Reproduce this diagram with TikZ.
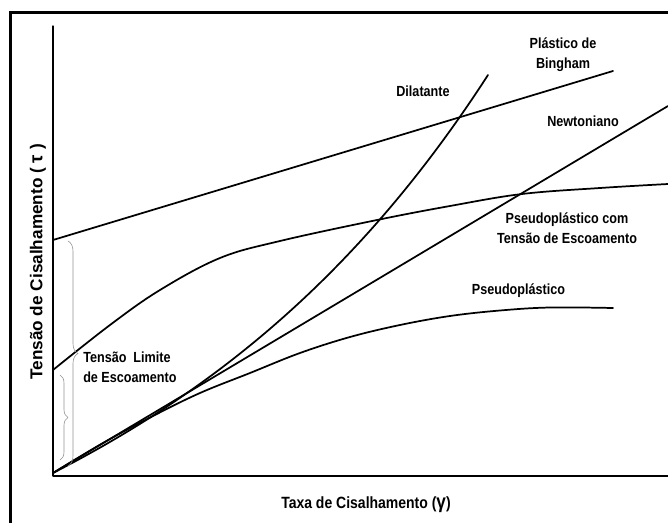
\documentclass[tikz,border=0pt]{standalone}
\usepackage{fontspec}
\setmainfont[FakeStretch=0.86]{Liberation Sans}
\newfontfamily\fonteeixo{Liberation Sans}
\usetikzlibrary{decorations.pathreplacing}

\begin{document}
\begin{tikzpicture}[x=0.75pt,y=0.75pt, line cap=round, line join=round,
	curva/.style={line width=1.3pt},
	chave/.style={draw=gray!85, line width=0.45pt, decorate, decoration={brace, amplitude=#1}},
	rotulo/.style={font=\fontsize{11}{15}\selectfont\bfseries, align=center, inner sep=0pt},
	eixo/.style={font=\fontsize{12.2}{14}\selectfont\bfseries, inner sep=0pt}]
	\useasboundingbox (-53,-46) rectangle (615,476);
	
	% ===== moldura =====
	\draw[line width=2.25pt, line cap=butt, line join=miter] (-42.5,-50) -- (-42.5,463.5) -- (620,463.5);
	
	% ===== eixos =====
	\draw[line width=1pt] (0,450) -- (0,0);
	\draw[line width=1.6pt, line cap=butt] (0,0) -- (620,0);
	
	% ===== curvas =====
	\draw[curva] (0,236) -- (560,405);                                  % Bingham
	\draw[curva] (0,3) -- (615,370);                                    % Newtoniano
	\draw[curva] (0,3) .. controls (150,80) and (300,192) .. (435,401); % Dilatante
	\draw[curva] plot[smooth, tension=0.6] coordinates {(0,106) (57,151) (107,186) (167,218) (227,235) (324,256) (397,270) (469,282) (547,288) (615,292)};
	\draw[curva] plot[smooth, tension=0.6] coordinates {(0,3) (50,33) (100,60) (147,83) (197,103) (247,123) (297,139) (347,151) (397,160) (447,165.5) (497,168.5) (560,168)};
	
	% ===== chaves =====
	\draw[chave=7.5pt] (15,235) -- (15,10);
	\draw[chave=6pt] (7,101) -- (7,16);
	
	% ===== rotulos =====
	\node[rotulo, anchor=base] (dil) at (370,379) {Dilatante};
	\node[rotulo] (bing) at (510,421) {Plástico de\\Bingham};
	\node[rotulo, anchor=base] (newt) at (530,349) {Newtoniano};
	\node[rotulo] (pct) at (514,247.5) {Pseudoplástico com\\Tensão de Escoamento};
	\node[rotulo, anchor=base] (pseudo) at (465.5,181) {Pseudoplástico};
	\node[rotulo, align=left, anchor=west] (limite) at (30,108.5) {Tensão\ \ Limite\\de Escoamento};
	
	\node[eixo, anchor=base] (xlab) at (313,-32) {Taxa de Cisalhamento ({\fontsize{15}{15}\selectfont γ})};
	\node[eixo, font=\fonteeixo\fontsize{12.9}{14}\selectfont\bfseries, rotate=90] (ylab) at (-15,214) {Tensão de Cisalhamento ( {\fontsize{14}{14}\selectfont τ} )};
\end{tikzpicture}
\end{document}
